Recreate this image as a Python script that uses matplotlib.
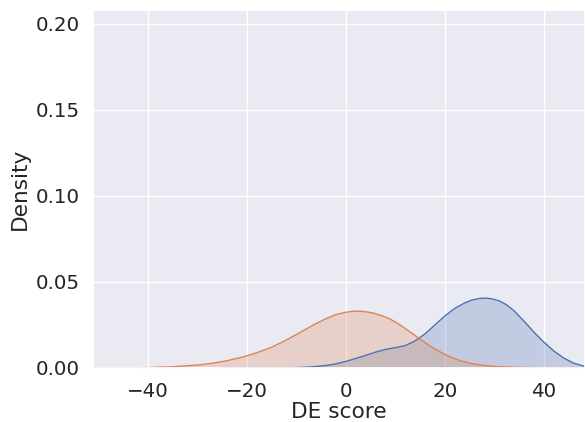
import matplotlib
matplotlib.use("Agg")
import matplotlib.pyplot as plt
import seaborn as sns

# density curves (DE score vs KDE density)
orange_x = [-51, -45, -40, -35, -30, -27, -24, -21, -18, -15, -12, -9, -6, -4, -2,
            0, 1.5, 3, 4.5, 6, 7.5, 9, 11, 13, 15, 17, 19, 21, 23, 25, 28, 31, 35,
            40, 48.3]
orange_y = [0.0, 0.00005, 0.0002, 0.0007, 0.0017, 0.0027, 0.0042, 0.0062, 0.0088,
            0.0120, 0.0162, 0.0210, 0.0258, 0.0286, 0.0310, 0.0324, 0.0330, 0.0330,
            0.0325, 0.0316, 0.0302, 0.0284, 0.0250, 0.0210, 0.0168, 0.0128, 0.0094,
            0.0066, 0.0044, 0.0028, 0.0014, 0.0007, 0.0003, 0.0001, 0.0]

blue_x = [-25, -15, -10, -7, -4, -2, 0, 2, 4, 6, 8, 10, 12, 14, 16, 18, 20, 22, 24,
          25.5, 27, 28.3, 29.5, 31, 32.5, 34, 36, 38, 40, 42, 44, 46, 48.3]
blue_y = [0.0, 0.00005, 0.0002, 0.0006, 0.0014, 0.0024, 0.0038, 0.0055, 0.0073,
          0.0092, 0.0108, 0.0118, 0.0130, 0.0157, 0.0198, 0.0250, 0.0302, 0.0346,
          0.0378, 0.0395, 0.0404, 0.0406, 0.0402, 0.0390, 0.0367, 0.0332, 0.0272,
          0.0208, 0.0150, 0.0099, 0.0058, 0.0028, 0.0009]

sns.set_theme(style="darkgrid", font_scale=1.3)
plt.rcParams["font.family"] = ["DejaVu Sans"]
pal = sns.color_palette("deep")

fig = plt.figure(figsize=(5.85, 4.22), dpi=100)
ax = fig.add_axes([0.159, 0.128, 0.841, 0.848])

for xs, ys, c in [(blue_x, blue_y, pal[0]), (orange_x, orange_y, pal[1])]:
    ax.fill_between(xs, ys, color=c, alpha=0.25, lw=0)
    ax.plot(xs, ys, color=c, lw=1, solid_joinstyle="round")

ax.set_xlim(-51, 48.3)
ax.set_ylim(0, 0.208)
ax.set_xticks([-40, -20, 0, 20, 40])
ax.set_yticks([0.0, 0.05, 0.10, 0.15, 0.20])
ax.tick_params(axis="x", pad=4)
ax.set_xlabel("DE score", labelpad=1)
ax.set_ylabel("Density")

fig.savefig("out.png", dpi=100)
